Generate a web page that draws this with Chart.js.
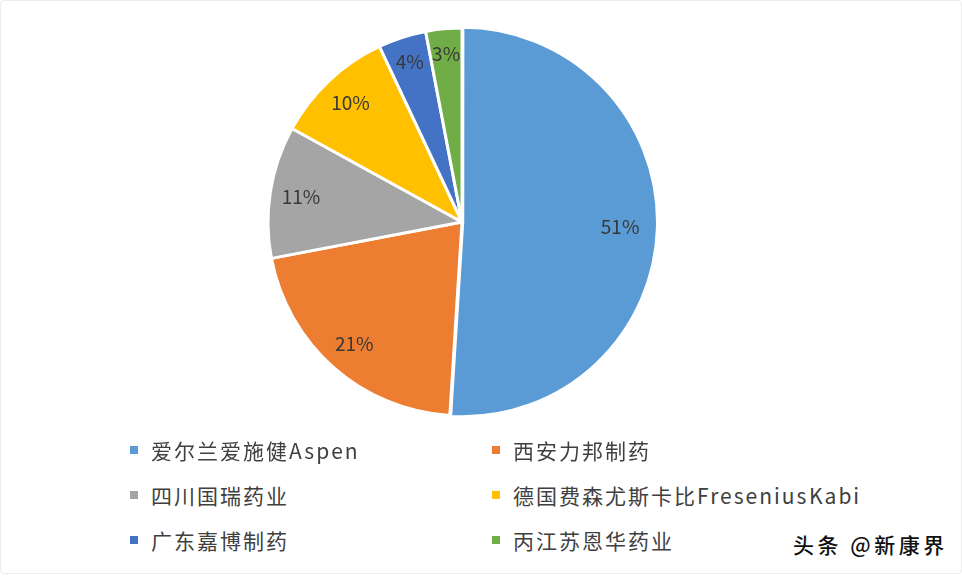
<!DOCTYPE html>
<html>
<head>
<meta charset="utf-8">
<script src="https://cdn.jsdelivr.net/npm/chart.js@4"></script>
<style>
  html, body { margin: 0; padding: 0; background: #fff; }
  body { width: 962px; height: 576px; position: relative; overflow: hidden; font-family: "Noto Sans CJK SC", "Noto Sans", sans-serif; }
  .frame { position: absolute; left: 0; top: 0; width: 960px; height: 572px; border: 1px solid #ececec; border-radius: 4px; }
  #wrap { position: absolute; left: 0; top: 0; width: 924px; height: 444px; }
  #legend { position: absolute; left: 130px; top: 435px; width: 760px; }
  .item { position: absolute; display: flex; align-items: center; font-size: 21px; color: #404040; white-space: nowrap; letter-spacing: 2px; word-spacing: -6px; }
  .sw { width: 8px; height: 8px; margin-right: 13px; }
  .wm { position: absolute; left: 793px; top: 529px; font-size: 21px; letter-spacing: 3.5px; color: #111; font-weight: 500;
        text-shadow: 0 0 2px #fff, 0 0 2px #fff, 1px 1px 0 #fff, -1px -1px 0 #fff; }
</style>
</head>
<body>
<div class="frame"></div>
<div id="wrap"><canvas id="c"></canvas></div>
<div id="legend"></div>
<div class="wm">头条 @新康界</div>
<script>
const categories = ["爱尔兰爱施健Aspen", "西安力邦制药", "四川国瑞药业", "德国费森尤斯卡比Fresenius Kabi", "广东嘉博制药", "丙江苏恩华药业"];
const shares = [51, 21, 11, 10, 4, 3];
const colors = ["#5B9BD5", "#ED7D31", "#A5A5A5", "#FFC000", "#4472C4", "#70AD47"];
const offsets = [3, 0, 0, 0, 0, 0];

const labelPlugin = {
  id: 'sliceLabels',
  afterDatasetsDraw(chart) {
    const ctx = chart.ctx;
    const meta = chart.getDatasetMeta(0);
    const ds = chart.data.datasets[0];
    ctx.save();
    ctx.font = '19px "Noto Sans CJK SC", "Noto Sans", sans-serif';
    ctx.fillStyle = '#383838';
    ctx.textAlign = 'center';
    ctx.textBaseline = 'middle';
    meta.data.forEach((arc, i) => {
      const p = arc.getProps(['x', 'y', 'startAngle', 'endAngle', 'outerRadius']);
      const mid = (p.startAngle + p.endAngle) / 2;
      const off = ds.offset[i] || 0;
      const frac = shares[i] < 6 ? 0.87 : (shares[i] > 40 ? 0.8 : 0.84);
      const r = p.outerRadius * frac + off;
      ctx.fillText(ds.data[i] + '%', p.x + Math.cos(mid) * r, p.y + Math.sin(mid) * r);
    });
    ctx.restore();
  }
};

const chart = new Chart(document.getElementById('c'), {
  type: 'pie',
  data: {
    labels: categories,
    datasets: [{
      data: shares,
      backgroundColor: colors,
      borderColor: '#ffffff',
      borderWidth: 3,
      offset: offsets
    }]
  },
  options: {
    responsive: true,
    maintainAspectRatio: false,
    animation: false,
    radius: 194,
    layout: { padding: 0 },
    plugins: { legend: { display: false }, tooltip: { enabled: false } }
  },
  plugins: [labelPlugin]
});

// HTML legend built from the chart data (two columns)
const leg = document.getElementById('legend');
chart.data.labels.forEach((lab, i) => {
  const col = i % 2, row = Math.floor(i / 2);
  const d = document.createElement('div');
  d.className = 'item';
  d.style.left = (col * 362) + 'px';
  d.style.top = (row * 45) + 'px';
  const sw = document.createElement('span');
  sw.className = 'sw';
  sw.style.background = chart.data.datasets[0].backgroundColor[i];
  const t = document.createElement('span');
  t.textContent = lab;
  d.appendChild(sw); d.appendChild(t);
  leg.appendChild(d);
});
</script>
</body>
</html>
